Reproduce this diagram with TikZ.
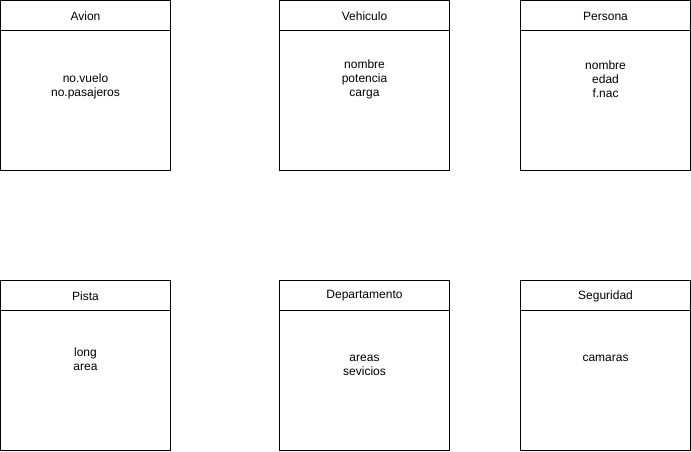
\documentclass[tikz,border=0pt]{standalone}
\usepackage{fontspec}
\setmainfont{Liberation Sans}

\begin{document}
\begin{tikzpicture}[x=0.75pt,y=0.75pt,yscale=-1,xscale=1,
    every node/.style={font=\fontsize{9}{10.5}\selectfont, inner sep=0.75pt, align=center},
    caja/.style={line width=0.75pt}]
            \useasboundingbox (0,0) rectangle (691,451);
            % fila de arriba
            \draw [caja] (0.5,0.5) rectangle (170.5,170.5) ;
            \draw [caja] (0.5,30.5) -- (170.5,30.5) ;
            \draw [caja] (279.5,0.5) rectangle (449.5,170.5) ;
            \draw [caja] (279.5,30.5) -- (449.5,30.5) ;
            \draw [caja] (520.5,0.5) rectangle (690.5,170.5) ;
            \draw [caja] (520.5,30.5) -- (690.5,30.5) ;
            % fila de abajo
            \draw [caja] (0.5,280.5) rectangle (170.5,450.5) ;
            \draw [caja] (0.5,310.5) -- (170.5,310.5) ;
            \draw [caja] (279.5,280.5) rectangle (449.5,450.5) ;
            \draw [caja] (279.5,310.5) -- (449.5,310.5) ;
            \draw [caja] (520.5,280.5) rectangle (690.5,450.5) ;
            \draw [caja] (520.5,310.5) -- (690.5,310.5) ;
            \node (avion) at (85.5,16) {Avion};
            \node (avionattr) at (85.5,86) {no.vuelo\\no.pasajeros};
            \node (vehiculo) at (364.5,16) {Vehiculo};
            \node (vehiculoattr) at (364.5,79) {nombre\\potencia\\carga};
            \node (persona) at (605.5,16) {Persona};
            \node (personaattr) at (605.5,79) {nombre\\edad\\f.nac};
            \node (pista) at (85.5,296) {Pista};
            \node (pistaattr) at (85.5,359) {long\\area};
            \node (depto) at (364.5,296) {Departamento};
            \node (deptoattr) at (364.5,365) {areas\\sevicios};
            \node (seguridad) at (605.5,296) {Seguridad};
            \node (seguridadattr) at (605.5,358) {camaras};
        \end{tikzpicture}
\end{document}
